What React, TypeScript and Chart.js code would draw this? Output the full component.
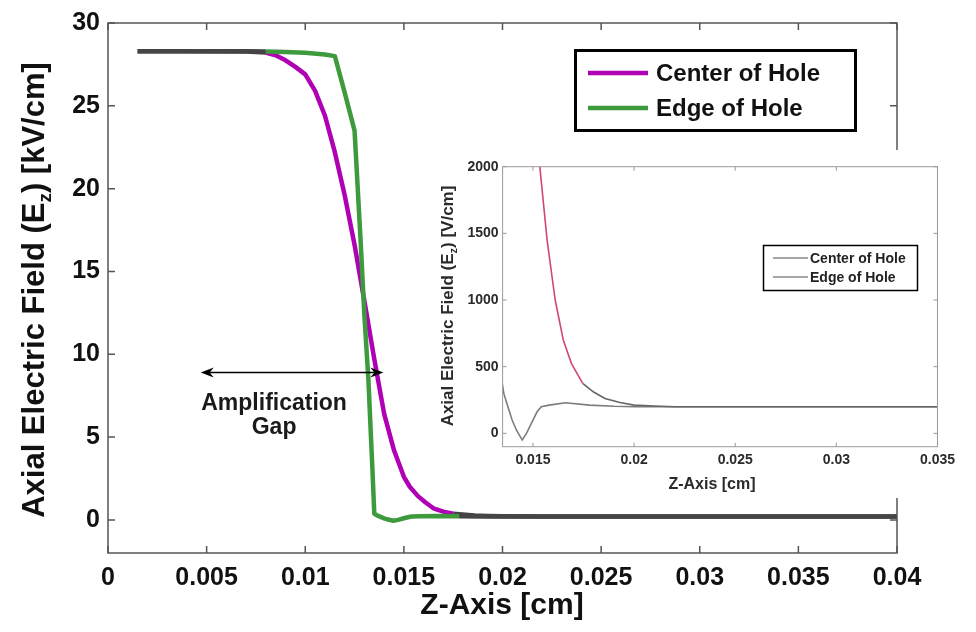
import React, { useEffect, useRef } from "react";
import { Chart, registerables } from "chart.js";

Chart.register(...registerables);

// ---------- data (main chart, kV/cm) ----------
const seriesNames = ["Center of Hole", "Edge of Hole"];

const zCenter = [
  0.0015, 0.004, 0.007, 0.008, 0.0085, 0.009, 0.0095, 0.01, 0.0105, 0.011,
  0.0115, 0.012, 0.0125, 0.013, 0.0135, 0.014, 0.0145, 0.015, 0.0153, 0.0157,
  0.0161, 0.0165, 0.017, 0.0175, 0.0186, 0.0193, 0.02, 0.022, 0.03, 0.04,
];
const centerField = [
  28.3, 28.3, 28.28, 28.22, 28.05, 27.75, 27.35, 26.9, 25.9, 24.4,
  22.2, 19.6, 16.6, 13.2, 9.7, 6.4, 4.2, 2.6, 2.0, 1.45,
  1.05, 0.7, 0.5, 0.375, 0.262, 0.232, 0.212, 0.2, 0.2, 0.2,
];

const zEdge = [
  0.0015, 0.004, 0.007, 0.008, 0.0085, 0.009, 0.01, 0.011, 0.0115, 0.012,
  0.0125, 0.0128, 0.013, 0.0132, 0.0134, 0.0135, 0.0137, 0.014, 0.0142, 0.01447,
  0.0147, 0.015, 0.0152, 0.01541, 0.0158, 0.0166, 0.0178, 0.019, 0.02, 0.03, 0.04,
];
const edgeField = [
  28.3, 28.3, 28.3, 28.28, 28.27, 28.25, 28.2, 28.1, 28.0, 25.8,
  23.5, 17.0, 12.3, 8.5, 3.2, 0.37, 0.24, 0.095, 0.02, -0.05,
  0.0, 0.1, 0.16, 0.2, 0.215, 0.23, 0.212, 0.203, 0.2, 0.2, 0.2,
];

const xTicks = [0, 0.005, 0.01, 0.015, 0.02, 0.025, 0.03, 0.035, 0.04];
const yTicks = [0, 5, 10, 15, 20, 25, 30];

// ---------- data (inset, V/cm) ----------
const insetZCenter = [
  0.015, 0.01534, 0.0157, 0.0161, 0.0165, 0.0169, 0.01746, 0.018, 0.01856,
  0.0193, 0.02, 0.021, 0.022, 0.025, 0.03, 0.035,
];
const insetCenterField = [
  2800, 2000, 1450, 1000, 700, 525, 375, 310, 262,
  232, 212, 205, 200, 200, 200, 200,
];
const insetZEdge = [
  0.013, 0.01348, 0.01356, 0.0137, 0.01397, 0.0142, 0.01447, 0.0147, 0.015,
  0.0152, 0.01541, 0.0158, 0.01661, 0.01779, 0.019, 0.02, 0.025, 0.03, 0.035,
];
const insetEdgeField = [
  12000, 375, 300, 230, 100, 20, -50, 5, 100,
  160, 200, 212, 230, 212, 203, 200, 200, 200, 200,
];
const insetXTicks = [0.015, 0.02, 0.025, 0.03, 0.035];
const insetYTicks = [0, 500, 1000, 1500, 2000];

// ---------- annotation ----------
const annotationText = ["Amplification", "Gap"];
const arrowStartZ = 0.0047;
const arrowEndZ = 0.01396;
const arrowField = 8.9;
const annotationTextZ = 0.00842;
const annotationTextFields = [7.0, 5.55];

// ---------- styles ----------
const FONT = "'Liberation Sans', Arial, Helvetica, sans-serif";
const MAGENTA = "#b000b4";
const GREEN = "#3d9a3d";
const OVERLAP = "#454545";
const INK = "#111111";

function interp(xs: number[], ys: number[], x: number): number {
  if (x <= xs[0]) return ys[0];
  for (let i = 1; i < xs.length; i++) {
    if (x <= xs[i]) {
      const t = (x - xs[i - 1]) / (xs[i] - xs[i - 1]);
      return ys[i - 1] + t * (ys[i] - ys[i - 1]);
    }
  }
  return ys[ys.length - 1];
}

const fmt = (v: number) => String(+Number(v).toFixed(4));

// colour a segment dark grey where it coincides with the other series
const overlapColor = (otherX: number[], otherY: number[]) => (ctx: any) => {
  const a = ctx.p0.parsed;
  const b = ctx.p1.parsed;
  const da = Math.abs(a.y - interp(otherX, otherY, a.x));
  const db = Math.abs(b.y - interp(otherX, otherY, b.x));
  return da < 0.2 && db < 0.2 ? OVERLAP : undefined;
};

function framePlugin(id: string, color: string, width: number, tickLen: number, xt: number[], yt: number[]) {
  return {
    id,
    afterDatasetsDraw(chart: any) {
      const { ctx, chartArea: a, scales } = chart;
      ctx.save();
      ctx.strokeStyle = color;
      ctx.lineWidth = width;
      ctx.strokeRect(a.left, a.top, a.right - a.left, a.bottom - a.top);
      ctx.beginPath();
      for (const v of xt) {
        const px = scales.x.getPixelForValue(v);
        ctx.moveTo(px, a.bottom);
        ctx.lineTo(px, a.bottom - tickLen);
        ctx.moveTo(px, a.top);
        ctx.lineTo(px, a.top + tickLen);
      }
      for (const v of yt) {
        const py = scales.y.getPixelForValue(v);
        ctx.moveTo(a.left, py);
        ctx.lineTo(a.left + tickLen, py);
        ctx.moveTo(a.right, py);
        ctx.lineTo(a.right - tickLen, py);
      }
      ctx.stroke();
      ctx.restore();
    },
  };
}

function titlesPlugin(
  id: string,
  xTitle: string,
  xTitlePos: [number, number],
  yParts: [string, string, string],
  yTitlePos: [number, number],
  size: number,
  color: string
) {
  return {
    id,
    afterDraw(chart: any) {
      const { ctx } = chart;
      ctx.save();
      ctx.fillStyle = color;
      ctx.font = `bold ${size}px ${FONT}`;
      ctx.textAlign = "center";
      ctx.textBaseline = "alphabetic";
      ctx.fillText(xTitle, xTitlePos[0], xTitlePos[1]);
      // rotated y title with subscript
      const ySize = size + 1;
      const subSize = Math.round(ySize * 0.62);
      const main = `bold ${ySize}px ${FONT}`;
      const sub = `bold ${subSize}px ${FONT}`;
      ctx.font = main;
      const w0 = ctx.measureText(yParts[0]).width;
      const w2 = ctx.measureText(yParts[2]).width;
      ctx.font = sub;
      const w1 = ctx.measureText(yParts[1]).width;
      const total = w0 + w1 + w2;
      ctx.translate(yTitlePos[0], yTitlePos[1]);
      ctx.rotate(-Math.PI / 2);
      ctx.textAlign = "left";
      let x = -total / 2;
      ctx.font = main;
      ctx.fillText(yParts[0], x, 0);
      x += w0;
      ctx.font = sub;
      ctx.fillText(yParts[1], x, ySize * 0.22);
      x += w1;
      ctx.font = main;
      ctx.fillText(yParts[2], x, 0);
      ctx.restore();
    },
  };
}

function legendPlugin(
  id: string,
  box: [number, number, number, number],
  boxWidth: number,
  lineX: [number, number],
  rowsY: number[],
  colors: string[],
  lineWidth: number,
  textX: number,
  fontSize: number,
  textColor: string
) {
  return {
    id,
    afterDraw(chart: any) {
      const { ctx } = chart;
      ctx.save();
      ctx.fillStyle = "#ffffff";
      ctx.fillRect(box[0], box[1], box[2], box[3]);
      ctx.strokeStyle = "#000000";
      ctx.lineWidth = boxWidth;
      ctx.strokeRect(box[0], box[1], box[2], box[3]);
      ctx.font = `bold ${fontSize}px ${FONT}`;
      ctx.textAlign = "left";
      ctx.textBaseline = "middle";
      seriesNames.forEach((name, i) => {
        ctx.strokeStyle = colors[i];
        ctx.lineWidth = lineWidth;
        ctx.beginPath();
        ctx.moveTo(lineX[0], rowsY[i]);
        ctx.lineTo(lineX[1], rowsY[i]);
        ctx.stroke();
        ctx.fillStyle = textColor;
        ctx.fillText(name, textX, rowsY[i] + 1);
      });
      ctx.restore();
    },
  };
}

const annotationPlugin = {
  id: "gapAnnotation",
  afterDraw(chart: any) {
    const { ctx, scales } = chart;
    const x0 = scales.x.getPixelForValue(arrowStartZ);
    const x1 = scales.x.getPixelForValue(arrowEndZ);
    const y = scales.y.getPixelForValue(arrowField);
    ctx.save();
    ctx.strokeStyle = "#000";
    ctx.fillStyle = "#000";
    ctx.lineWidth = 1.5;
    ctx.beginPath();
    ctx.moveTo(x0 + 6, y);
    ctx.lineTo(x1 - 6, y);
    ctx.stroke();
    const head = (tip: number, dir: number) => {
      ctx.beginPath();
      ctx.moveTo(tip, y);
      ctx.lineTo(tip - dir * 13, y - 5);
      ctx.lineTo(tip - dir * 9, y);
      ctx.lineTo(tip - dir * 13, y + 5);
      ctx.closePath();
      ctx.fill();
    };
    head(x0, -1);
    head(x1, 1);
    ctx.font = `bold 23px ${FONT}`;
    ctx.textAlign = "center";
    ctx.textBaseline = "middle";
    ctx.fillStyle = "#1a1a1a";
    const tx = scales.x.getPixelForValue(annotationTextZ);
    annotationText.forEach((t, i) => {
      ctx.fillText(t, tx, scales.y.getPixelForValue(annotationTextFields[i]));
    });
    ctx.restore();
  },
};

export default function App() {
  const mainRef = useRef<HTMLCanvasElement | null>(null);
  const insetRef = useRef<HTMLCanvasElement | null>(null);

  useEffect(() => {
    if (!mainRef.current || !insetRef.current) return;

    const centerData = zCenter.map((x, i) => ({ x, y: centerField[i] }));
    const edgeData = zEdge.map((x, i) => ({ x, y: edgeField[i] }));

    const main = new Chart(mainRef.current, {
      type: "line",
      data: {
        datasets: [
          {
            label: seriesNames[0],
            data: centerData,
            borderColor: MAGENTA,
            borderWidth: 4.5,
            pointRadius: 0,
            tension: 0,
            order: 1,
            borderJoinStyle: "round",
            segment: { borderColor: overlapColor(zEdge, edgeField) },
          },
          {
            label: seriesNames[1],
            data: edgeData,
            borderColor: GREEN,
            borderWidth: 4.5,
            pointRadius: 0,
            tension: 0,
            order: 0,
            borderJoinStyle: "round",
            segment: { borderColor: overlapColor(zCenter, centerField) },
          },
        ],
      },
      options: {
        animation: false,
        responsive: false,
        maintainAspectRatio: false,
        events: [],
        layout: { padding: { top: 23, right: 79, left: 0, bottom: 0 } },
        plugins: { legend: { display: false }, tooltip: { enabled: false } },
        scales: {
          x: {
            type: "linear",
            min: 0,
            max: 0.04,
            afterBuildTicks: (s: any) => {
              s.ticks = xTicks.map((v) => ({ value: v }));
            },
            afterFit: (s: any) => {
              s.height = 79;
            },
            grid: { display: false, drawTicks: false, tickLength: 0 },
            border: { display: false },
            ticks: {
              autoSkip: false,
              maxRotation: 0,
              padding: 10,
              color: INK,
              font: { family: FONT, size: 25, weight: "bold" },
              callback: (v: any) => fmt(v),
            },
          },
          y: {
            type: "linear",
            min: -2,
            max: 30,
            afterBuildTicks: (s: any) => {
              s.ticks = yTicks.map((v) => ({ value: v }));
            },
            afterFit: (s: any) => {
              s.width = 108;
            },
            grid: { display: false, drawTicks: false, tickLength: 0 },
            border: { display: false },
            ticks: {
              padding: 8,
              color: INK,
              font: { family: FONT, size: 25, weight: "bold" },
              callback: (v: any) => fmt(v),
            },
          },
        },
      } as any,
      plugins: [
        framePlugin("mainFrame", "#555555", 1.5, 7, xTicks, yTicks),
        titlesPlugin(
          "mainTitles",
          "Z-Axis [cm]",
          [502, 614],
          ["Axial Electric Field (E", "z", ") [kV/cm]"],
          [44, 290],
          30,
          INK
        ),
        annotationPlugin,
        legendPlugin(
          "mainLegend",
          [575.5, 50.5, 280, 80],
          3,
          [588, 648],
          [73, 108],
          [MAGENTA, GREEN],
          4.5,
          656,
          24,
          INK
        ),
      ],
    } as any);

    const insetCenterData = insetZCenter.map((x, i) => ({ x, y: insetCenterField[i] }));
    const insetEdgeData = insetZEdge.map((x, i) => ({ x, y: insetEdgeField[i] }));

    const inset = new Chart(insetRef.current, {
      type: "line",
      data: {
        datasets: [
          {
            label: seriesNames[0],
            data: insetCenterData,
            borderColor: "#666666",
            borderWidth: 1.6,
            pointRadius: 0,
            tension: 0,
            order: 0,
            segment: {
              borderColor: (ctx: any) =>
                ctx.p0.parsed.y > 360 && ctx.p1.parsed.y > 360 ? "#d2457c" : undefined,
            },
          },
          {
            label: seriesNames[1],
            data: insetEdgeData,
            borderColor: "#7d7d7d",
            borderWidth: 1.6,
            pointRadius: 0,
            tension: 0,
            order: 1,
          },
        ],
      },
      options: {
        animation: false,
        responsive: false,
        maintainAspectRatio: false,
        events: [],
        layout: { padding: { top: 16.7, right: 18.3, left: 0, bottom: 0 } },
        plugins: { legend: { display: false }, tooltip: { enabled: false } },
        scales: {
          x: {
            type: "linear",
            min: 0.0135,
            max: 0.035,
            afterBuildTicks: (s: any) => {
              s.ticks = insetXTicks.map((v) => ({ value: v }));
            },
            afterFit: (s: any) => {
              s.height = 51.3;
            },
            grid: { display: false, drawTicks: false, tickLength: 0 },
            border: { display: false },
            ticks: {
              autoSkip: false,
              maxRotation: 0,
              padding: 5,
              color: "#2a2a2a",
              font: { family: FONT, size: 14, weight: "bold" },
              callback: (v: any) => fmt(v),
            },
          },
          y: {
            type: "linear",
            min: -100,
            max: 2000,
            afterBuildTicks: (s: any) => {
              s.ticks = insetYTicks.map((v) => ({ value: v }));
            },
            afterFit: (s: any) => {
              s.width = 65.6;
            },
            grid: { display: false, drawTicks: false, tickLength: 0 },
            border: { display: false },
            ticks: {
              padding: 4,
              color: "#2a2a2a",
              font: { family: FONT, size: 14, weight: "bold" },
              callback: (v: any) => fmt(v),
            },
          },
        },
      } as any,
      plugins: [
        framePlugin("insetFrame", "#9a9a9a", 1, 4, insetXTicks, insetYTicks),
        titlesPlugin(
          "insetTitles",
          "Z-Axis [cm]",
          [275, 339],
          ["Axial Electric Field (E", "z", ") [V/cm]"],
          [16, 156],
          16,
          "#2a2a2a"
        ),
        legendPlugin(
          "insetLegend",
          [326.5, 95.5, 154, 45],
          1.5,
          [336, 371],
          [108, 127],
          ["#8a8a8a", "#8a8a8a"],
          1.6,
          373,
          14,
          "#222222"
        ),
      ],
    } as any);

    return () => {
      main.destroy();
      inset.destroy();
    };
  }, []);

  return (
    <div
      style={{
        position: "fixed",
        left: 0,
        top: 0,
        width: 976,
        height: 632,
        background: "#ffffff",
        overflow: "hidden",
      }}
    >
      <canvas
        ref={mainRef}
        width={976}
        height={632}
        style={{ position: "absolute", left: 0, top: 0, width: 976, height: 632 }}
      />
      <canvas
        ref={insetRef}
        width={523}
        height={348}
        style={{
          position: "absolute",
          left: 437,
          top: 150,
          width: 523,
          height: 348,
          background: "#ffffff",
        }}
      />
    </div>
  );
}
